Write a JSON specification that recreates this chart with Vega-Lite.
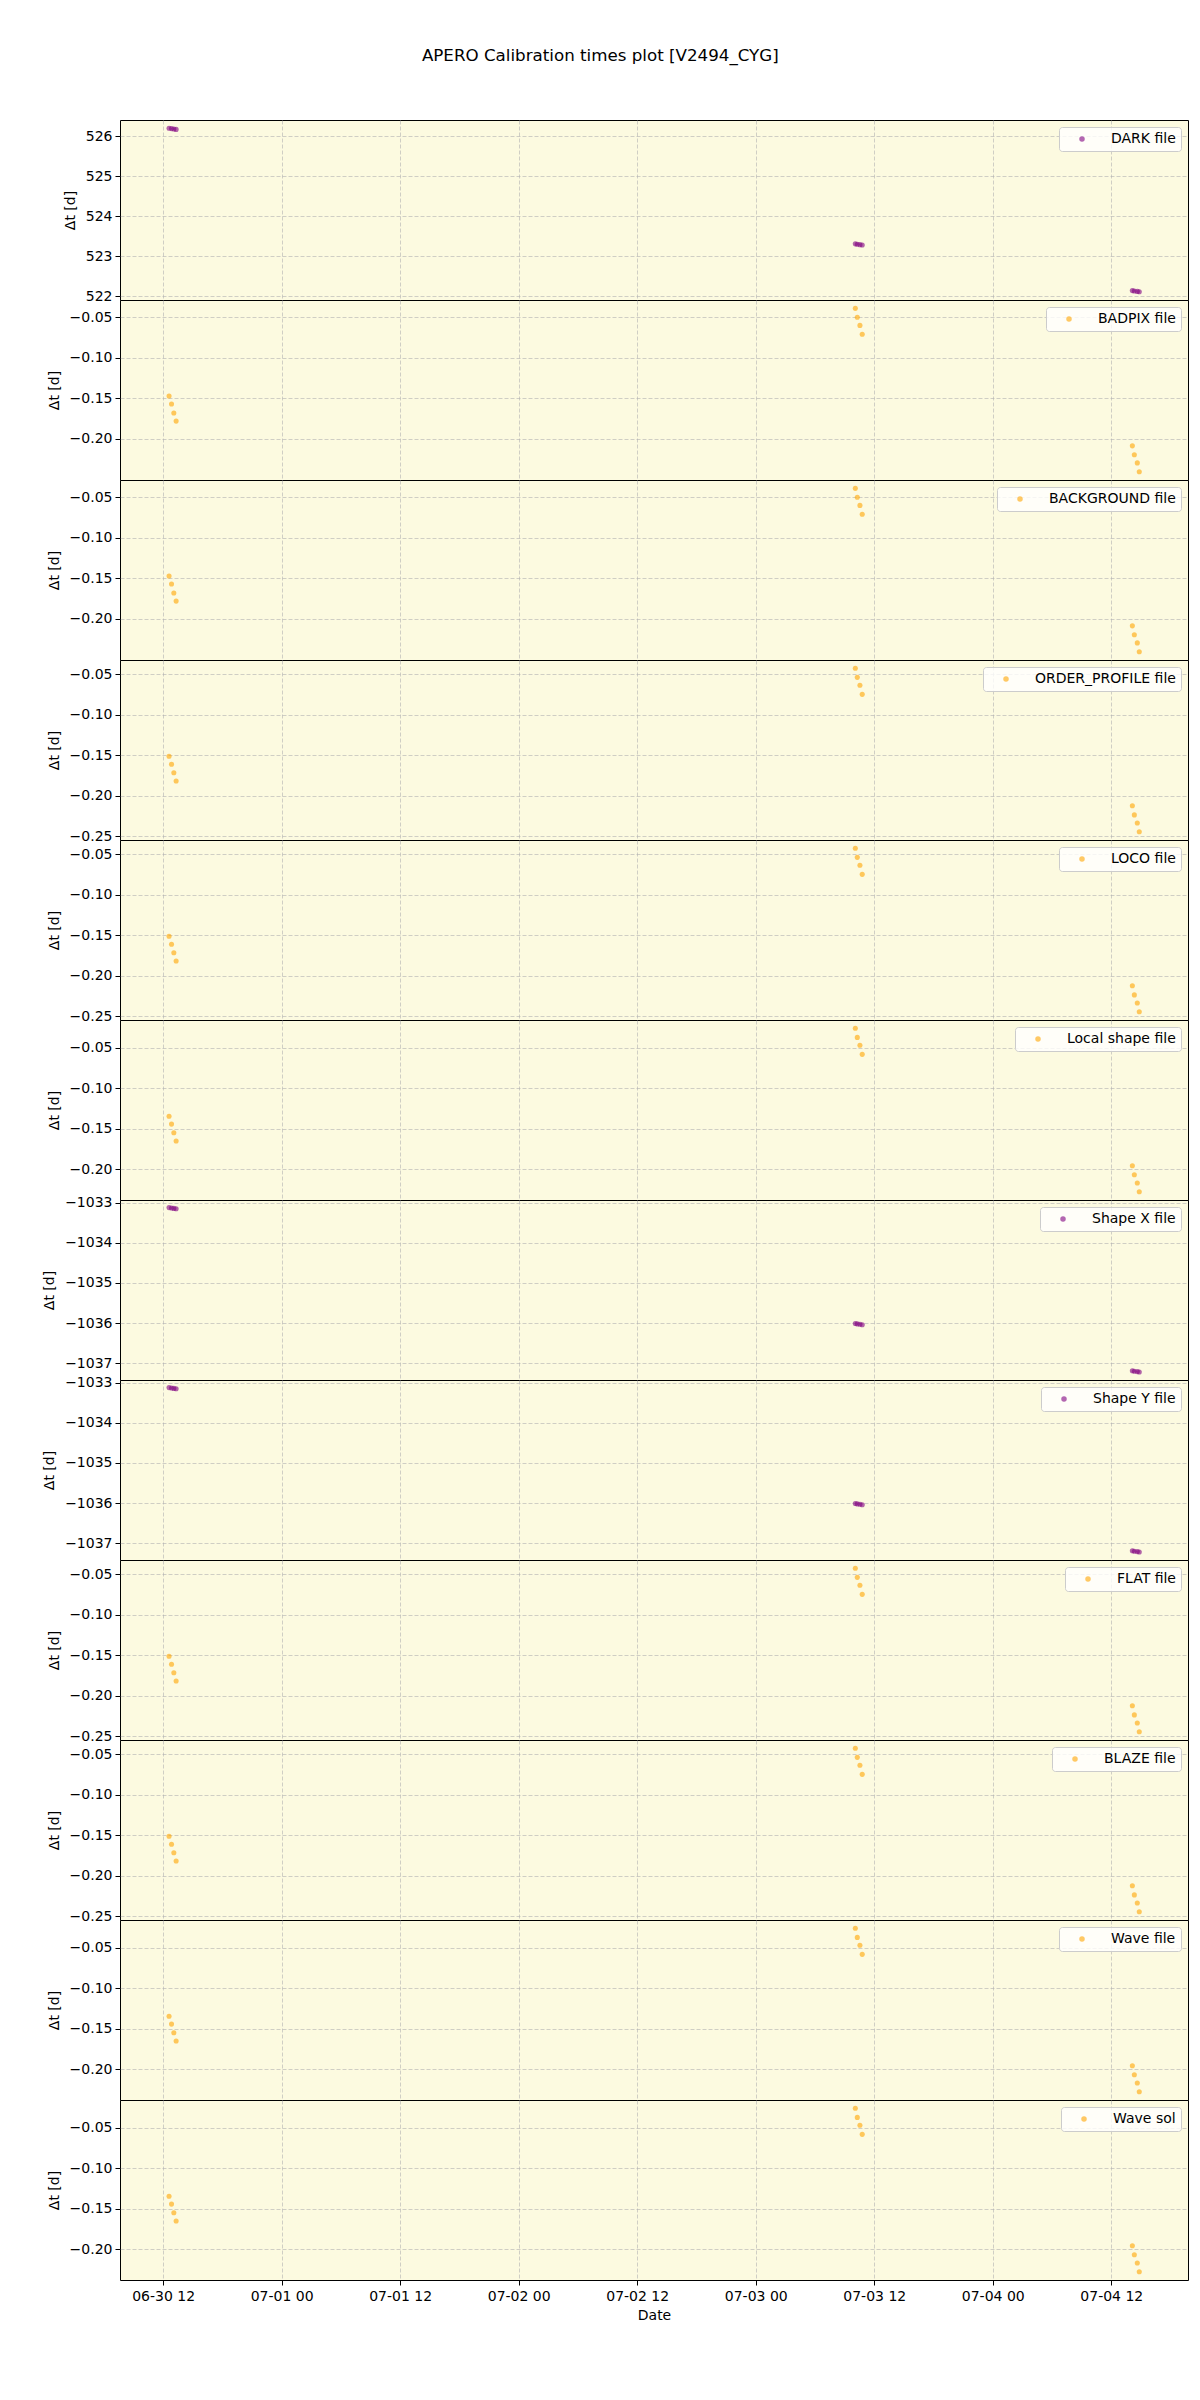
{
"$schema":"https://vega.github.io/schema/vega-lite/v6.json",
"title":{"text":"APERO Calibration times plot [V2494_CYG]","fontSize":16.7,"font":"DejaVu Sans","fontWeight":"normal","color":"black","anchor":"middle","offset":55,"dx":-15},
"padding":{"left":42,"top":47,"right":12,"bottom":20},
"background":"white",
"spacing":0,
"bounds":"flush",
"resolve":{"scale":{"y":"independent","color":"independent","x":"independent"},"axis":{"x":"independent","y":"independent"},"legend":{"color":"independent"}},
"data":{"values":[
{"panel":"DARK file","t":"2023-06-30T12:36:00","dt":526.205},
{"panel":"DARK file","t":"2023-06-30T12:51:00","dt":526.195},
{"panel":"DARK file","t":"2023-06-30T13:05:00","dt":526.185},
{"panel":"DARK file","t":"2023-06-30T13:19:00","dt":526.175},
{"panel":"DARK file","t":"2023-07-03T10:05:00","dt":523.31},
{"panel":"DARK file","t":"2023-07-03T10:17:00","dt":523.30},
{"panel":"DARK file","t":"2023-07-03T10:33:00","dt":523.29},
{"panel":"DARK file","t":"2023-07-03T10:47:00","dt":523.28},
{"panel":"DARK file","t":"2023-07-04T14:08:00","dt":522.14},
{"panel":"DARK file","t":"2023-07-04T14:20:00","dt":522.13},
{"panel":"DARK file","t":"2023-07-04T14:38:00","dt":522.12},
{"panel":"DARK file","t":"2023-07-04T14:50:00","dt":522.11},
{"panel":"BADPIX file","t":"2023-06-30T12:36:00","dt":-0.147},
{"panel":"BADPIX file","t":"2023-06-30T12:51:00","dt":-0.157},
{"panel":"BADPIX file","t":"2023-06-30T13:05:00","dt":-0.168},
{"panel":"BADPIX file","t":"2023-06-30T13:19:00","dt":-0.178},
{"panel":"BADPIX file","t":"2023-07-03T10:05:00","dt":-0.039},
{"panel":"BADPIX file","t":"2023-07-03T10:17:00","dt":-0.050},
{"panel":"BADPIX file","t":"2023-07-03T10:33:00","dt":-0.060},
{"panel":"BADPIX file","t":"2023-07-03T10:47:00","dt":-0.071},
{"panel":"BADPIX file","t":"2023-07-04T14:08:00","dt":-0.2085},
{"panel":"BADPIX file","t":"2023-07-04T14:20:00","dt":-0.2195},
{"panel":"BADPIX file","t":"2023-07-04T14:38:00","dt":-0.2295},
{"panel":"BADPIX file","t":"2023-07-04T14:50:00","dt":-0.2405},
{"panel":"BACKGROUND file","t":"2023-06-30T12:36:00","dt":-0.147},
{"panel":"BACKGROUND file","t":"2023-06-30T12:51:00","dt":-0.157},
{"panel":"BACKGROUND file","t":"2023-06-30T13:05:00","dt":-0.168},
{"panel":"BACKGROUND file","t":"2023-06-30T13:19:00","dt":-0.178},
{"panel":"BACKGROUND file","t":"2023-07-03T10:05:00","dt":-0.039},
{"panel":"BACKGROUND file","t":"2023-07-03T10:17:00","dt":-0.050},
{"panel":"BACKGROUND file","t":"2023-07-03T10:33:00","dt":-0.060},
{"panel":"BACKGROUND file","t":"2023-07-03T10:47:00","dt":-0.071},
{"panel":"BACKGROUND file","t":"2023-07-04T14:08:00","dt":-0.2085},
{"panel":"BACKGROUND file","t":"2023-07-04T14:20:00","dt":-0.2195},
{"panel":"BACKGROUND file","t":"2023-07-04T14:38:00","dt":-0.2295},
{"panel":"BACKGROUND file","t":"2023-07-04T14:50:00","dt":-0.2405},
{"panel":"ORDER_PROFILE file","t":"2023-06-30T12:36:00","dt":-0.1513},
{"panel":"ORDER_PROFILE file","t":"2023-06-30T12:51:00","dt":-0.1611},
{"panel":"ORDER_PROFILE file","t":"2023-06-30T13:05:00","dt":-0.1716},
{"panel":"ORDER_PROFILE file","t":"2023-06-30T13:19:00","dt":-0.1818},
{"panel":"ORDER_PROFILE file","t":"2023-07-03T10:05:00","dt":-0.0426},
{"panel":"ORDER_PROFILE file","t":"2023-07-03T10:17:00","dt":-0.0539},
{"panel":"ORDER_PROFILE file","t":"2023-07-03T10:33:00","dt":-0.0636},
{"panel":"ORDER_PROFILE file","t":"2023-07-03T10:47:00","dt":-0.0749},
{"panel":"ORDER_PROFILE file","t":"2023-07-04T14:08:00","dt":-0.2124},
{"panel":"ORDER_PROFILE file","t":"2023-07-04T14:20:00","dt":-0.2237},
{"panel":"ORDER_PROFILE file","t":"2023-07-04T14:38:00","dt":-0.2338},
{"panel":"ORDER_PROFILE file","t":"2023-07-04T14:50:00","dt":-0.2446},
{"panel":"LOCO file","t":"2023-06-30T12:36:00","dt":-0.1513},
{"panel":"LOCO file","t":"2023-06-30T12:51:00","dt":-0.1611},
{"panel":"LOCO file","t":"2023-06-30T13:05:00","dt":-0.1716},
{"panel":"LOCO file","t":"2023-06-30T13:19:00","dt":-0.1818},
{"panel":"LOCO file","t":"2023-07-03T10:05:00","dt":-0.0426},
{"panel":"LOCO file","t":"2023-07-03T10:17:00","dt":-0.0539},
{"panel":"LOCO file","t":"2023-07-03T10:33:00","dt":-0.0636},
{"panel":"LOCO file","t":"2023-07-03T10:47:00","dt":-0.0749},
{"panel":"LOCO file","t":"2023-07-04T14:08:00","dt":-0.2124},
{"panel":"LOCO file","t":"2023-07-04T14:20:00","dt":-0.2237},
{"panel":"LOCO file","t":"2023-07-04T14:38:00","dt":-0.2338},
{"panel":"LOCO file","t":"2023-07-04T14:50:00","dt":-0.2446},
{"panel":"Local shape file","t":"2023-06-30T12:36:00","dt":-0.1344},
{"panel":"Local shape file","t":"2023-06-30T12:51:00","dt":-0.1441},
{"panel":"Local shape file","t":"2023-06-30T13:05:00","dt":-0.1547},
{"panel":"Local shape file","t":"2023-06-30T13:19:00","dt":-0.1649},
{"panel":"Local shape file","t":"2023-07-03T10:05:00","dt":-0.0257},
{"panel":"Local shape file","t":"2023-07-03T10:17:00","dt":-0.0371},
{"panel":"Local shape file","t":"2023-07-03T10:33:00","dt":-0.0467},
{"panel":"Local shape file","t":"2023-07-03T10:47:00","dt":-0.0580},
{"panel":"Local shape file","t":"2023-07-04T14:08:00","dt":-0.1955},
{"panel":"Local shape file","t":"2023-07-04T14:20:00","dt":-0.2067},
{"panel":"Local shape file","t":"2023-07-04T14:38:00","dt":-0.2169},
{"panel":"Local shape file","t":"2023-07-04T14:50:00","dt":-0.2277},
{"panel":"Shape X file","t":"2023-06-30T12:36:00","dt":-1033.12},
{"panel":"Shape X file","t":"2023-06-30T12:51:00","dt":-1033.13},
{"panel":"Shape X file","t":"2023-06-30T13:05:00","dt":-1033.14},
{"panel":"Shape X file","t":"2023-06-30T13:19:00","dt":-1033.15},
{"panel":"Shape X file","t":"2023-07-03T10:05:00","dt":-1036.01},
{"panel":"Shape X file","t":"2023-07-03T10:17:00","dt":-1036.02},
{"panel":"Shape X file","t":"2023-07-03T10:33:00","dt":-1036.03},
{"panel":"Shape X file","t":"2023-07-03T10:47:00","dt":-1036.04},
{"panel":"Shape X file","t":"2023-07-04T14:08:00","dt":-1037.19},
{"panel":"Shape X file","t":"2023-07-04T14:20:00","dt":-1037.20},
{"panel":"Shape X file","t":"2023-07-04T14:38:00","dt":-1037.21},
{"panel":"Shape X file","t":"2023-07-04T14:50:00","dt":-1037.22},
{"panel":"Shape Y file","t":"2023-06-30T12:36:00","dt":-1033.12},
{"panel":"Shape Y file","t":"2023-06-30T12:51:00","dt":-1033.13},
{"panel":"Shape Y file","t":"2023-06-30T13:05:00","dt":-1033.14},
{"panel":"Shape Y file","t":"2023-06-30T13:19:00","dt":-1033.15},
{"panel":"Shape Y file","t":"2023-07-03T10:05:00","dt":-1036.01},
{"panel":"Shape Y file","t":"2023-07-03T10:17:00","dt":-1036.02},
{"panel":"Shape Y file","t":"2023-07-03T10:33:00","dt":-1036.03},
{"panel":"Shape Y file","t":"2023-07-03T10:47:00","dt":-1036.04},
{"panel":"Shape Y file","t":"2023-07-04T14:08:00","dt":-1037.19},
{"panel":"Shape Y file","t":"2023-07-04T14:20:00","dt":-1037.20},
{"panel":"Shape Y file","t":"2023-07-04T14:38:00","dt":-1037.21},
{"panel":"Shape Y file","t":"2023-07-04T14:50:00","dt":-1037.22},
{"panel":"FLAT file","t":"2023-06-30T12:36:00","dt":-0.1513},
{"panel":"FLAT file","t":"2023-06-30T12:51:00","dt":-0.1611},
{"panel":"FLAT file","t":"2023-06-30T13:05:00","dt":-0.1716},
{"panel":"FLAT file","t":"2023-06-30T13:19:00","dt":-0.1818},
{"panel":"FLAT file","t":"2023-07-03T10:05:00","dt":-0.0426},
{"panel":"FLAT file","t":"2023-07-03T10:17:00","dt":-0.0539},
{"panel":"FLAT file","t":"2023-07-03T10:33:00","dt":-0.0636},
{"panel":"FLAT file","t":"2023-07-03T10:47:00","dt":-0.0749},
{"panel":"FLAT file","t":"2023-07-04T14:08:00","dt":-0.2124},
{"panel":"FLAT file","t":"2023-07-04T14:20:00","dt":-0.2237},
{"panel":"FLAT file","t":"2023-07-04T14:38:00","dt":-0.2338},
{"panel":"FLAT file","t":"2023-07-04T14:50:00","dt":-0.2446},
{"panel":"BLAZE file","t":"2023-06-30T12:36:00","dt":-0.1513},
{"panel":"BLAZE file","t":"2023-06-30T12:51:00","dt":-0.1611},
{"panel":"BLAZE file","t":"2023-06-30T13:05:00","dt":-0.1716},
{"panel":"BLAZE file","t":"2023-06-30T13:19:00","dt":-0.1818},
{"panel":"BLAZE file","t":"2023-07-03T10:05:00","dt":-0.0426},
{"panel":"BLAZE file","t":"2023-07-03T10:17:00","dt":-0.0539},
{"panel":"BLAZE file","t":"2023-07-03T10:33:00","dt":-0.0636},
{"panel":"BLAZE file","t":"2023-07-03T10:47:00","dt":-0.0749},
{"panel":"BLAZE file","t":"2023-07-04T14:08:00","dt":-0.2124},
{"panel":"BLAZE file","t":"2023-07-04T14:20:00","dt":-0.2237},
{"panel":"BLAZE file","t":"2023-07-04T14:38:00","dt":-0.2338},
{"panel":"BLAZE file","t":"2023-07-04T14:50:00","dt":-0.2446},
{"panel":"Wave file","t":"2023-06-30T12:36:00","dt":-0.1344},
{"panel":"Wave file","t":"2023-06-30T12:51:00","dt":-0.1441},
{"panel":"Wave file","t":"2023-06-30T13:05:00","dt":-0.1547},
{"panel":"Wave file","t":"2023-06-30T13:19:00","dt":-0.1649},
{"panel":"Wave file","t":"2023-07-03T10:05:00","dt":-0.0257},
{"panel":"Wave file","t":"2023-07-03T10:17:00","dt":-0.0371},
{"panel":"Wave file","t":"2023-07-03T10:33:00","dt":-0.0467},
{"panel":"Wave file","t":"2023-07-03T10:47:00","dt":-0.0580},
{"panel":"Wave file","t":"2023-07-04T14:08:00","dt":-0.1955},
{"panel":"Wave file","t":"2023-07-04T14:20:00","dt":-0.2067},
{"panel":"Wave file","t":"2023-07-04T14:38:00","dt":-0.2169},
{"panel":"Wave file","t":"2023-07-04T14:50:00","dt":-0.2277},
{"panel":"Wave sol","t":"2023-06-30T12:36:00","dt":-0.1344},
{"panel":"Wave sol","t":"2023-06-30T12:51:00","dt":-0.1441},
{"panel":"Wave sol","t":"2023-06-30T13:05:00","dt":-0.1547},
{"panel":"Wave sol","t":"2023-06-30T13:19:00","dt":-0.1649},
{"panel":"Wave sol","t":"2023-07-03T10:05:00","dt":-0.0257},
{"panel":"Wave sol","t":"2023-07-03T10:17:00","dt":-0.0371},
{"panel":"Wave sol","t":"2023-07-03T10:33:00","dt":-0.0467},
{"panel":"Wave sol","t":"2023-07-03T10:47:00","dt":-0.0580},
{"panel":"Wave sol","t":"2023-07-04T14:08:00","dt":-0.1955},
{"panel":"Wave sol","t":"2023-07-04T14:20:00","dt":-0.2067},
{"panel":"Wave sol","t":"2023-07-04T14:38:00","dt":-0.2169},
{"panel":"Wave sol","t":"2023-07-04T14:50:00","dt":-0.2277}
]},
"vconcat":[
{"width":1068,"height":180,"transform":[{"filter":"datum.panel === 'DARK file'"}],"mark":{"type":"circle","size":26,"opacity":0.6},
"encoding":{"x":{"field":"t","type":"temporal","scale":{"domain":["2023-06-30T07:38:00","2023-07-04T19:46:00"]},"axis":{"title":null,"labels":false,"ticks":false,"values":["2023-06-30T12:00:00","2023-07-01T00:00:00","2023-07-01T12:00:00","2023-07-02T00:00:00","2023-07-02T12:00:00","2023-07-03T00:00:00","2023-07-03T12:00:00","2023-07-04T00:00:00","2023-07-04T12:00:00"]}},
"y":{"field":"dt","type":"quantitative","scale":{"domain":[521.905,526.41],"nice":false,"zero":false},"axis":{"title":"Δt [d]","values":[522,523,524,525,526],"format":"d"}},
"color":{"field":"panel","type":"nominal","scale":{"range":["#800080"]},"legend":{"title":null}}}},
{"width":1068,"height":180,"transform":[{"filter":"datum.panel === 'BADPIX file'"}],"mark":{"type":"circle","size":26,"opacity":0.6},
"encoding":{"x":{"field":"t","type":"temporal","scale":{"domain":["2023-06-30T07:38:00","2023-07-04T19:46:00"]},"axis":{"title":null,"labels":false,"ticks":false,"values":["2023-06-30T12:00:00","2023-07-01T00:00:00","2023-07-01T12:00:00","2023-07-02T00:00:00","2023-07-02T12:00:00","2023-07-03T00:00:00","2023-07-03T12:00:00","2023-07-04T00:00:00","2023-07-04T12:00:00"]}},
"y":{"field":"dt","type":"quantitative","scale":{"domain":[-0.2506,-0.0287],"nice":false,"zero":false},"axis":{"title":"Δt [d]","values":[-0.2,-0.15,-0.1,-0.05],"format":".2f"}},
"color":{"field":"panel","type":"nominal","scale":{"range":["#ffa500"]},"legend":{"title":null}}}},
{"width":1068,"height":180,"transform":[{"filter":"datum.panel === 'BACKGROUND file'"}],"mark":{"type":"circle","size":26,"opacity":0.6},
"encoding":{"x":{"field":"t","type":"temporal","scale":{"domain":["2023-06-30T07:38:00","2023-07-04T19:46:00"]},"axis":{"title":null,"labels":false,"ticks":false,"values":["2023-06-30T12:00:00","2023-07-01T00:00:00","2023-07-01T12:00:00","2023-07-02T00:00:00","2023-07-02T12:00:00","2023-07-03T00:00:00","2023-07-03T12:00:00","2023-07-04T00:00:00","2023-07-04T12:00:00"]}},
"y":{"field":"dt","type":"quantitative","scale":{"domain":[-0.2506,-0.0287],"nice":false,"zero":false},"axis":{"title":"Δt [d]","values":[-0.2,-0.15,-0.1,-0.05],"format":".2f"}},
"color":{"field":"panel","type":"nominal","scale":{"range":["#ffa500"]},"legend":{"title":null}}}},
{"width":1068,"height":180,"transform":[{"filter":"datum.panel === 'ORDER_PROFILE file'"}],"mark":{"type":"circle","size":26,"opacity":0.6},
"encoding":{"x":{"field":"t","type":"temporal","scale":{"domain":["2023-06-30T07:38:00","2023-07-04T19:46:00"]},"axis":{"title":null,"labels":false,"ticks":false,"values":["2023-06-30T12:00:00","2023-07-01T00:00:00","2023-07-01T12:00:00","2023-07-02T00:00:00","2023-07-02T12:00:00","2023-07-03T00:00:00","2023-07-03T12:00:00","2023-07-04T00:00:00","2023-07-04T12:00:00"]}},
"y":{"field":"dt","type":"quantitative","scale":{"domain":[-0.2547,-0.0325],"nice":false,"zero":false},"axis":{"title":"Δt [d]","values":[-0.25,-0.2,-0.15,-0.1,-0.05],"format":".2f"}},
"color":{"field":"panel","type":"nominal","scale":{"range":["#ffa500"]},"legend":{"title":null}}}},
{"width":1068,"height":180,"transform":[{"filter":"datum.panel === 'LOCO file'"}],"mark":{"type":"circle","size":26,"opacity":0.6},
"encoding":{"x":{"field":"t","type":"temporal","scale":{"domain":["2023-06-30T07:38:00","2023-07-04T19:46:00"]},"axis":{"title":null,"labels":false,"ticks":false,"values":["2023-06-30T12:00:00","2023-07-01T00:00:00","2023-07-01T12:00:00","2023-07-02T00:00:00","2023-07-02T12:00:00","2023-07-03T00:00:00","2023-07-03T12:00:00","2023-07-04T00:00:00","2023-07-04T12:00:00"]}},
"y":{"field":"dt","type":"quantitative","scale":{"domain":[-0.2547,-0.0325],"nice":false,"zero":false},"axis":{"title":"Δt [d]","values":[-0.25,-0.2,-0.15,-0.1,-0.05],"format":".2f"}},
"color":{"field":"panel","type":"nominal","scale":{"range":["#ffa500"]},"legend":{"title":null}}}},
{"width":1068,"height":180,"transform":[{"filter":"datum.panel === 'Local shape file'"}],"mark":{"type":"circle","size":26,"opacity":0.6},
"encoding":{"x":{"field":"t","type":"temporal","scale":{"domain":["2023-06-30T07:38:00","2023-07-04T19:46:00"]},"axis":{"title":null,"labels":false,"ticks":false,"values":["2023-06-30T12:00:00","2023-07-01T00:00:00","2023-07-01T12:00:00","2023-07-02T00:00:00","2023-07-02T12:00:00","2023-07-03T00:00:00","2023-07-03T12:00:00","2023-07-04T00:00:00","2023-07-04T12:00:00"]}},
"y":{"field":"dt","type":"quantitative","scale":{"domain":[-0.2378,-0.0156],"nice":false,"zero":false},"axis":{"title":"Δt [d]","values":[-0.2,-0.15,-0.1,-0.05],"format":".2f"}},
"color":{"field":"panel","type":"nominal","scale":{"range":["#ffa500"]},"legend":{"title":null}}}},
{"width":1068,"height":180,"transform":[{"filter":"datum.panel === 'Shape X file'"}],"mark":{"type":"circle","size":26,"opacity":0.6},
"encoding":{"x":{"field":"t","type":"temporal","scale":{"domain":["2023-06-30T07:38:00","2023-07-04T19:46:00"]},"axis":{"title":null,"labels":false,"ticks":false,"values":["2023-06-30T12:00:00","2023-07-01T00:00:00","2023-07-01T12:00:00","2023-07-02T00:00:00","2023-07-02T12:00:00","2023-07-03T00:00:00","2023-07-03T12:00:00","2023-07-04T00:00:00","2023-07-04T12:00:00"]}},
"y":{"field":"dt","type":"quantitative","scale":{"domain":[-1037.42,-1032.93],"nice":false,"zero":false},"axis":{"title":"Δt [d]","values":[-1037,-1036,-1035,-1034,-1033],"format":"d"}},
"color":{"field":"panel","type":"nominal","scale":{"range":["#800080"]},"legend":{"title":null}}}},
{"width":1068,"height":180,"transform":[{"filter":"datum.panel === 'Shape Y file'"}],"mark":{"type":"circle","size":26,"opacity":0.6},
"encoding":{"x":{"field":"t","type":"temporal","scale":{"domain":["2023-06-30T07:38:00","2023-07-04T19:46:00"]},"axis":{"title":null,"labels":false,"ticks":false,"values":["2023-06-30T12:00:00","2023-07-01T00:00:00","2023-07-01T12:00:00","2023-07-02T00:00:00","2023-07-02T12:00:00","2023-07-03T00:00:00","2023-07-03T12:00:00","2023-07-04T00:00:00","2023-07-04T12:00:00"]}},
"y":{"field":"dt","type":"quantitative","scale":{"domain":[-1037.42,-1032.93],"nice":false,"zero":false},"axis":{"title":"Δt [d]","values":[-1037,-1036,-1035,-1034,-1033],"format":"d"}},
"color":{"field":"panel","type":"nominal","scale":{"range":["#800080"]},"legend":{"title":null}}}},
{"width":1068,"height":180,"transform":[{"filter":"datum.panel === 'FLAT file'"}],"mark":{"type":"circle","size":26,"opacity":0.6},
"encoding":{"x":{"field":"t","type":"temporal","scale":{"domain":["2023-06-30T07:38:00","2023-07-04T19:46:00"]},"axis":{"title":null,"labels":false,"ticks":false,"values":["2023-06-30T12:00:00","2023-07-01T00:00:00","2023-07-01T12:00:00","2023-07-02T00:00:00","2023-07-02T12:00:00","2023-07-03T00:00:00","2023-07-03T12:00:00","2023-07-04T00:00:00","2023-07-04T12:00:00"]}},
"y":{"field":"dt","type":"quantitative","scale":{"domain":[-0.2547,-0.0325],"nice":false,"zero":false},"axis":{"title":"Δt [d]","values":[-0.25,-0.2,-0.15,-0.1,-0.05],"format":".2f"}},
"color":{"field":"panel","type":"nominal","scale":{"range":["#ffa500"]},"legend":{"title":null}}}},
{"width":1068,"height":180,"transform":[{"filter":"datum.panel === 'BLAZE file'"}],"mark":{"type":"circle","size":26,"opacity":0.6},
"encoding":{"x":{"field":"t","type":"temporal","scale":{"domain":["2023-06-30T07:38:00","2023-07-04T19:46:00"]},"axis":{"title":null,"labels":false,"ticks":false,"values":["2023-06-30T12:00:00","2023-07-01T00:00:00","2023-07-01T12:00:00","2023-07-02T00:00:00","2023-07-02T12:00:00","2023-07-03T00:00:00","2023-07-03T12:00:00","2023-07-04T00:00:00","2023-07-04T12:00:00"]}},
"y":{"field":"dt","type":"quantitative","scale":{"domain":[-0.2547,-0.0325],"nice":false,"zero":false},"axis":{"title":"Δt [d]","values":[-0.25,-0.2,-0.15,-0.1,-0.05],"format":".2f"}},
"color":{"field":"panel","type":"nominal","scale":{"range":["#ffa500"]},"legend":{"title":null}}}},
{"width":1068,"height":180,"transform":[{"filter":"datum.panel === 'Wave file'"}],"mark":{"type":"circle","size":26,"opacity":0.6},
"encoding":{"x":{"field":"t","type":"temporal","scale":{"domain":["2023-06-30T07:38:00","2023-07-04T19:46:00"]},"axis":{"title":null,"labels":false,"ticks":false,"values":["2023-06-30T12:00:00","2023-07-01T00:00:00","2023-07-01T12:00:00","2023-07-02T00:00:00","2023-07-02T12:00:00","2023-07-03T00:00:00","2023-07-03T12:00:00","2023-07-04T00:00:00","2023-07-04T12:00:00"]}},
"y":{"field":"dt","type":"quantitative","scale":{"domain":[-0.2378,-0.0156],"nice":false,"zero":false},"axis":{"title":"Δt [d]","values":[-0.2,-0.15,-0.1,-0.05],"format":".2f"}},
"color":{"field":"panel","type":"nominal","scale":{"range":["#ffa500"]},"legend":{"title":null}}}},
{"width":1068,"height":180,"transform":[{"filter":"datum.panel === 'Wave sol'"}],"mark":{"type":"circle","size":26,"opacity":0.6},
"encoding":{"x":{"field":"t","type":"temporal","scale":{"domain":["2023-06-30T07:38:00","2023-07-04T19:46:00"]},"axis":{"title":"Date","format":"%m-%d %H","labelAngle":0,"labelPadding":4,"titlePadding":5,"values":["2023-06-30T12:00:00","2023-07-01T00:00:00","2023-07-01T12:00:00","2023-07-02T00:00:00","2023-07-02T12:00:00","2023-07-03T00:00:00","2023-07-03T12:00:00","2023-07-04T00:00:00","2023-07-04T12:00:00"]}},
"y":{"field":"dt","type":"quantitative","scale":{"domain":[-0.2378,-0.0156],"nice":false,"zero":false},"axis":{"title":"Δt [d]","values":[-0.2,-0.15,-0.1,-0.05],"format":".2f"}},
"color":{"field":"panel","type":"nominal","scale":{"range":["#ffa500"]},"legend":{"title":null}}}}
],
"config":{
"font":"DejaVu Sans",
"view":{"stroke":"black","strokeWidth":1,"fill":"#fcfae0"},
"axis":{"labelFont":"DejaVu Sans","labelFontSize":14,"labelColor":"black","titleFont":"DejaVu Sans","titleFontSize":14,"titleFontWeight":"normal","titleColor":"black","tickColor":"black","tickSize":5,"tickWidth":1,"labelPadding":3,"titlePadding":8,"domain":false,"grid":true,"gridColor":"#b0b0b0","gridDash":[4,2],"gridOpacity":0.6,"gridWidth":1},
"legend":{"orient":"top-right","offset":7,"labelFont":"DejaVu Sans","labelFontSize":14,"labelColor":"black","fillColor":"rgba(255,255,255,0.8)","strokeColor":"#cccccc","cornerRadius":3,"padding":5,"symbolType":"circle","symbolSize":30,"symbolOpacity":0.6,"symbolOffset":11,"labelOffset":22,"symbolStrokeWidth":0}
}
}
